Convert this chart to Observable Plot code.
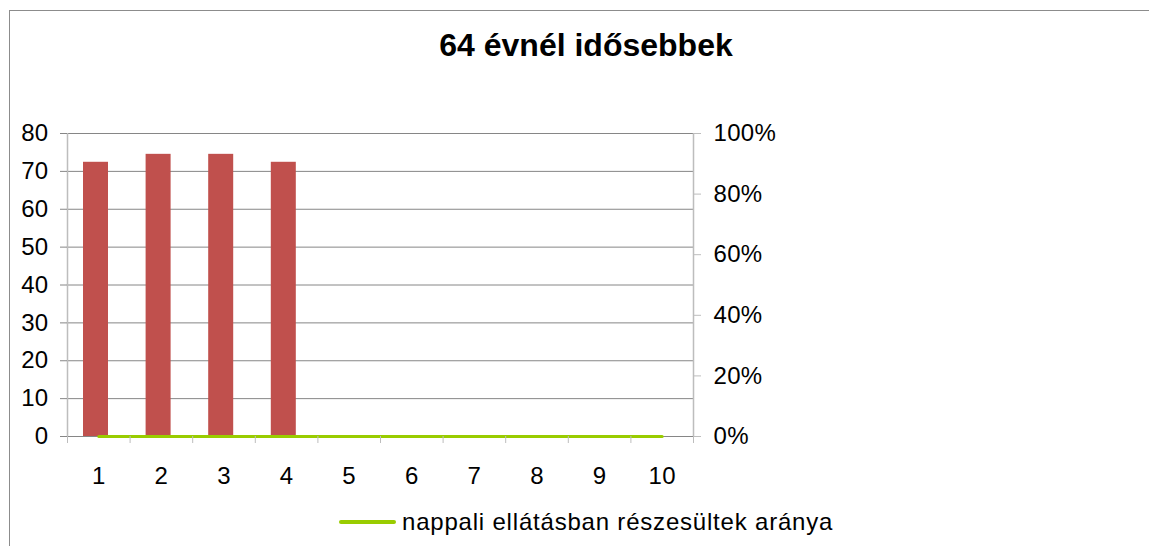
<!DOCTYPE html>
<html>
<head>
<meta charset="utf-8">
<script src="https://cdn.jsdelivr.net/npm/d3@7"></script>
<script src="https://cdn.jsdelivr.net/npm/@observablehq/plot@0.6"></script>
<style>
  html, body { margin: 0; padding: 0; background: #fff; overflow: hidden; }
  #wrap { position: relative; width: 1149px; height: 546px; overflow: hidden; font-family: "Liberation Sans", Arial, sans-serif; }
  #frame { position: absolute; left: 9px; top: 10px; width: 1300px; height: 700px; border: 1px solid #8c8c8c; box-sizing: border-box; }
  #title { position: absolute; left: 0; top: 29px; width: 1172px; text-align: center; font-weight: bold; font-size: 32px; line-height: 32px; color: #000; }
  #legend { position: absolute; left: 339px; top: 507px; height: 30px; display: flex; align-items: center; font-size: 24px; letter-spacing: 0.8px; color: #000; }
  #legend .sw { display: inline-block; width: 57px; height: 4px; background: #99cc00; margin-right: 6px; border-radius: 2px; }
  #chart { position: absolute; left: 0; top: 0; }
</style>
</head>
<body>
<div id="wrap">
  <div id="frame"></div>
  <div id="chart"></div>
  <div id="title"></div>
  <div id="legend"><span class="sw"></span><span id="legtext"></span></div>
</div>
<script>
// ---- data ----
const title = "64 évnél idősebbek";
const categories = [1, 2, 3, 4, 5, 6, 7, 8, 9, 10];
const barValues = [72.4, 74.5, 74.5, 72.4, 0, 0, 0, 0, 0, 0];
const lineName = "nappali ellátásban részesültek aránya";
const lineShare = [0, 0, 0, 0, 0, 0, 0, 0, 0, 0];
const leftTicks = [0, 10, 20, 30, 40, 50, 60, 70, 80];
const rightTicks = [0, 0.2, 0.4, 0.6, 0.8, 1.0];

const leftMax = 80;
const bars = categories.map((c, i) => ({cat: c, value: barValues[i]})).filter(d => d.value > 0);
const line = categories.map((c, i) => ({cat: c, share: lineShare[i]}));
const boundaries = [...categories.map(c => c - 0.5), categories[categories.length - 1] + 0.5];

document.getElementById("title").textContent = title;
document.getElementById("legtext").textContent = lineName;

const gridColor = "#868686";
const axisColor = "#bdbdbd";

const plot = Plot.plot({
  width: 1149,
  height: 546,
  marginLeft: 67,
  marginRight: 456,
  marginTop: 133,
  marginBottom: 110,
  style: {fontFamily: "Liberation Sans, Arial, sans-serif", fontSize: "24px", letterSpacing: "0.3px", color: "#000", background: "transparent"},
  x: {type: "linear", domain: [0.5, 10.5], axis: null},
  y: {domain: [0, leftMax], axis: null},
  marks: [
    Plot.ruleY(leftTicks, {stroke: gridColor, strokeWidth: 1}),
    Plot.ruleX([boundaries[0]], {stroke: axisColor, strokeWidth: 1.5}),
    Plot.ruleX([boundaries[boundaries.length - 1]], {stroke: axisColor, strokeWidth: 1.5}),
    Plot.rectY(bars, {x1: d => d.cat - 0.5, x2: d => d.cat + 0.5, y: "value", insetLeft: 16, insetRight: 21.6, fill: "#c0504d"}),
    Plot.ruleY([0], {stroke: gridColor, strokeWidth: 1}),
    Plot.lineY(line, {x: "cat", y: d => d.share * leftMax, stroke: "#99cc00", strokeWidth: 3}),
    Plot.axisY({anchor: "left", ticks: leftTicks, tickSize: 7, tickPadding: 12, stroke: gridColor, label: null}),
    Plot.axisY({anchor: "right", ticks: rightTicks.map(t => t * leftMax), tickFormat: d => Math.round(d / leftMax * 100) + "%", tickSize: 7, tickPadding: 13, stroke: axisColor, label: null}),
    Plot.axisX({anchor: "bottom", ticks: boundaries, tickFormat: () => "", tickSize: 7, stroke: axisColor, label: null}),
    Plot.axisX({anchor: "bottom", ticks: categories, tickFormat: d => String(d), tickSize: 0, tickPadding: 30, label: null})
  ]
});
document.getElementById("chart").appendChild(plot);
</script>
</body>
</html>
